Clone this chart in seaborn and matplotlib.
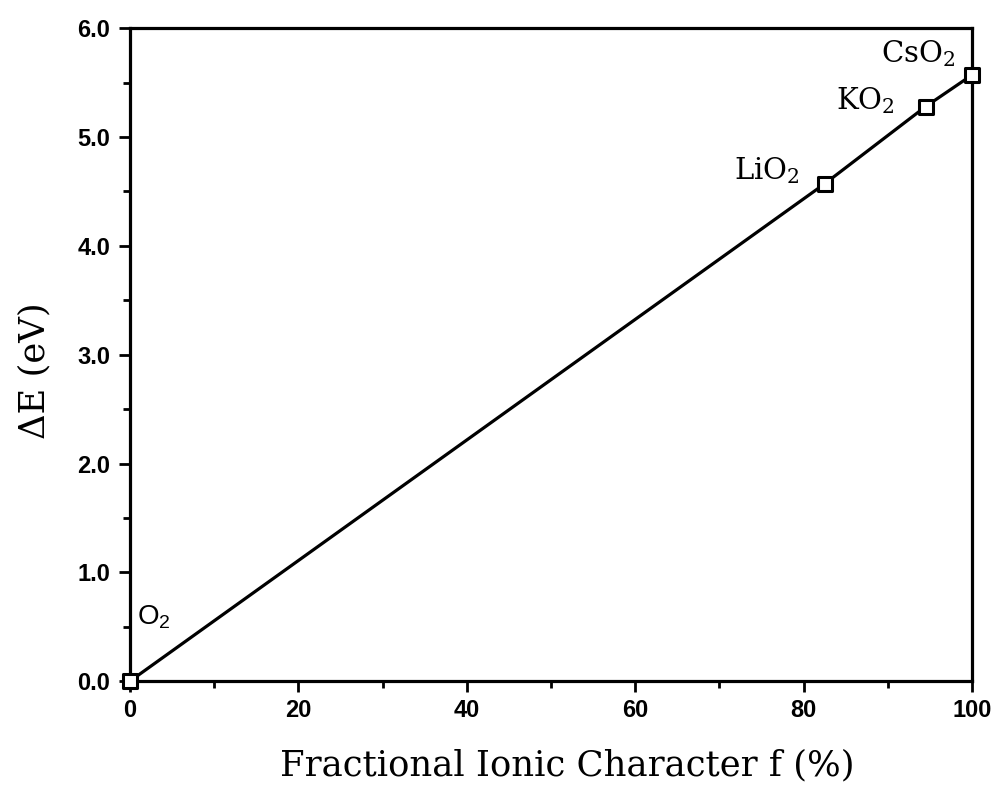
import matplotlib
matplotlib.use("Agg")
import matplotlib.pyplot as plt
from matplotlib.ticker import MultipleLocator, FormatStrFormatter
import seaborn as sns
import pandas as pd

# Superoxide series: fractional ionic character vs. energy shift
compounds = ["O2", "LiO2", "KO2", "CsO2"]
ionic_char = [0.0, 82.5, 94.5, 100.0]
delta_e = [0.0, 4.57, 5.28, 5.57]

df = pd.DataFrame({"f": ionic_char, "dE": delta_e, "name": compounds})

sns.set_theme(style="white")
plt.rcParams["font.family"] = ["DejaVu Serif"]
plt.rcParams["mathtext.fontset"] = "custom"
plt.rcParams["mathtext.rm"] = "DejaVu Serif"
plt.rcParams["mathtext.sf"] = "Liberation Sans"
plt.rcParams["text.color"] = "black"
plt.rcParams["axes.labelcolor"] = "black"
plt.rcParams["xtick.color"] = "black"
plt.rcParams["ytick.color"] = "black"

fig = plt.figure(figsize=(9.99, 7.93), dpi=100)
ax = fig.add_axes([0.130, 0.141, 0.843, 0.8235])

sns.lineplot(data=df, x="f", y="dE", ax=ax, color="black", linewidth=2.3,
             sort=True, legend=False)
sns.scatterplot(data=df, x="f", y="dE", ax=ax, marker="s", s=95,
                facecolor="white", edgecolor="black", linewidth=2.2,
                zorder=5, clip_on=False, legend=False)

# compound labels: (math string, x offset pt, y offset pt, alignment, size)
label_style = {
    "O2": (r"$\mathsf{O}_\mathsf{2}$", 5, 41, "left", 20),
    "LiO2": (r"$\mathrm{LiO}_\mathrm{2}$", -18, 3.5, "right", 21),
    "KO2": (r"$\mathrm{KO}_\mathrm{2}$", -22, -2, "right", 21),
    "CsO2": (r"$\mathrm{CsO}_\mathrm{2}$", -12, 9, "right", 21),
}
for name, x, y in zip(compounds, ionic_char, delta_e):
    txt, dx, dy, ha, fs = label_style[name]
    ax.annotate(txt, (x, y), xytext=(dx, dy), textcoords="offset points",
                ha=ha, va="baseline", fontsize=fs, color="black")

ax.set_xlim(0, 100)
ax.set_ylim(0, 6)
ax.xaxis.set_major_locator(MultipleLocator(20))
ax.xaxis.set_minor_locator(MultipleLocator(10))
ax.yaxis.set_major_locator(MultipleLocator(1.0))
ax.yaxis.set_minor_locator(MultipleLocator(0.5))
ax.yaxis.set_major_formatter(FormatStrFormatter("%.1f"))

ax.tick_params(axis="both", which="both", direction="out", color="black",
               labelcolor="black", bottom=True, left=True, top=False,
               right=False, labelsize=17, labelfontfamily="Liberation Sans")
ax.tick_params(which="major", length=8, width=2.0)
ax.tick_params(which="minor", length=5, width=2.0)
ax.tick_params(axis="x", which="major", pad=5)
ax.tick_params(axis="y", which="major", pad=6)
for lab in ax.get_xticklabels() + ax.get_yticklabels():
    lab.set_fontweight("bold")

for sp in ax.spines.values():
    sp.set_visible(True)
    sp.set_color("black")
    sp.set_linewidth(2.3)

ax.set_xlabel("Fractional Ionic Character f (%)", fontsize=25.5,
              color="black")
ax.xaxis.set_label_coords(0.519, -0.144)
ax.xaxis.label.set_va("baseline")
ax.set_ylabel("\u0394E (eV)", fontsize=25.5, color="black")
ax.yaxis.set_label_coords(-0.102, 0.476)
ax.yaxis.label.set_va("baseline")

fig.savefig("out.png", dpi=100, facecolor="white")
